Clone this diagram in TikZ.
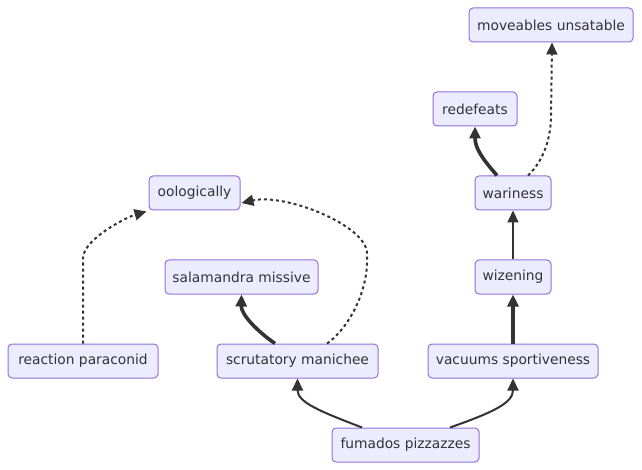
\documentclass[tikz,border=0pt]{standalone}
\usepackage{fontspec}
\setmainfont{DejaVu Sans}
\usetikzlibrary{arrows.meta}
\definecolor{nodefill}{HTML}{ECECFF}
\definecolor{nodeline}{HTML}{9370DB}
\definecolor{ink}{HTML}{333333}
\begin{document}
\begin{tikzpicture}[x=1pt,y=-1pt,
  box/.style={draw=nodeline,fill=nodefill,line width=1pt,rounded corners=4pt,
    minimum height=34pt,inner sep=0pt,text=ink,
    font=\fontsize{13.8pt}{16pt}\selectfont},
  link/.style={draw=ink,line width=2pt,-{Triangle[length=12pt,width=11pt]}},
  thicklink/.style={link,line width=3.6pt},
  dotlink/.style={link,dash pattern=on 3pt off 3pt}]
\useasboundingbox[fill=white] (0,0) rectangle (642,470);
\node[box,minimum width=164pt] (mov) at (551,25) {moveables unsatable};
\node[box,minimum width=84pt] (red) at (475,109) {redefeats};
\node[box,minimum width=91pt] (oo) at (194.5,193) {oologically};
\node[box,minimum width=76pt] (war) at (513,193) {wariness};
\node[box,minimum width=153pt] (sal) at (241.5,277) {salamandra missive};
\node[box,minimum width=76pt] (wiz) at (513,277) {wizening};
\node[box,minimum width=150pt] (rea) at (83,361) {reaction paraconid};
\node[box,minimum width=161pt] (scr) at (297.5,361) {scrutatory manichee};
\node[box,minimum width=170pt] (vac) at (513,361) {vacuums sportiveness};
\node[box,minimum width=147pt] (fum) at (405.5,445) {fumados pizzazzes};
% edges
\draw[dotlink] (rea.north) -- ([yshift=85pt]rea.north) .. controls ([yshift=105pt]rea.north) and ([xshift=-20pt,yshift=-6pt]oo.south west) .. ([xshift=-2pt,yshift=-1pt]oo.south west);
\draw[dotlink] ([xshift=29.5pt]scr.north) .. controls ([xshift=50pt,yshift=14pt]scr.north) and ([xshift=69.5pt,yshift=50pt]scr.north) .. ([xshift=69.5pt,yshift=82pt]scr.north) -- ([xshift=69.5pt,yshift=90pt]scr.north) .. controls ([xshift=69.5pt,yshift=118pt]scr.north) and ([xshift=45pt,yshift=0pt]oo.east) .. ([xshift=1pt,yshift=-10pt]oo.east);
\draw[thicklink] ([xshift=-22.5pt]scr.north) .. controls ([xshift=-40pt,yshift=12pt]scr.north) and ([xshift=-0.5pt,yshift=-20pt]sal.south) .. (sal.south);
\draw[link] (wiz.north) -- (war.south);
\draw[thicklink] (vac.north) -- (wiz.south);
\draw[thicklink] ([xshift=-16pt]war.north) .. controls ([xshift=-30pt,yshift=16pt]war.north) and ([yshift=-22pt]red.south) .. (red.south);
\draw[dotlink] ([xshift=15pt]war.north) .. controls ([xshift=32pt,yshift=16pt]war.north) and ([xshift=38pt,yshift=40pt]war.north) .. ([xshift=38pt,yshift=60pt]war.north) -- ([xshift=1pt]mov.south);
\draw[link] ([xshift=-43.5pt]fum.north) .. controls ([xshift=-85pt,yshift=16pt]fum.north) and ([yshift=-24pt]scr.south) .. (scr.south);
\draw[link] ([xshift=44.5pt]fum.north) .. controls ([xshift=90pt,yshift=16pt]fum.north) and ([yshift=-24pt]vac.south) .. (vac.south);
\end{tikzpicture}
\end{document}
